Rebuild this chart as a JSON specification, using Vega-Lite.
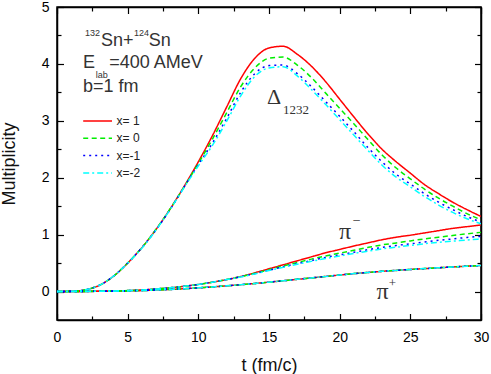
{
  "$schema": "https://vega.github.io/schema/vega-lite/v6.json",
  "width": 424,
  "height": 313,
  "autosize": {"type": "none"},
  "padding": {"left": 57, "top": 7, "right": 10, "bottom": 54},
  "background": "white",
  "config": {
    "view": {"stroke": "black", "strokeWidth": 1.5},
    "font": "Liberation Sans",
    "axis": {"titleFontWeight": 400},
    "style": {"guide-title": {"fontWeight": 400}}
  },
  "datasets": {
    "curves": [
      {"t":0,"s":"x= 1","D":0,"M":0,"P":0},
      {"t":1,"s":"x= 1","D":0.005,"M":0.001,"P":0.001},
      {"t":2,"s":"x= 1","D":0.03,"M":0.003,"P":0.002},
      {"t":3,"s":"x= 1","D":0.11,"M":0.006,"P":0.004},
      {"t":4,"s":"x= 1","D":0.27,"M":0.01,"P":0.007},
      {"t":5,"s":"x= 1","D":0.5,"M":0.017,"P":0.011},
      {"t":6,"s":"x= 1","D":0.77,"M":0.028,"P":0.017},
      {"t":7,"s":"x= 1","D":1.09,"M":0.045,"P":0.026},
      {"t":8,"s":"x= 1","D":1.45,"M":0.066,"P":0.037},
      {"t":9,"s":"x= 1","D":1.85,"M":0.092,"P":0.05},
      {"t":10,"s":"x= 1","D":2.28,"M":0.125,"P":0.065},
      {"t":11,"s":"x= 1","D":2.74,"M":0.165,"P":0.082},
      {"t":12,"s":"x= 1","D":3.24,"M":0.21,"P":0.1},
      {"t":13,"s":"x= 1","D":3.74,"M":0.265,"P":0.12},
      {"t":14,"s":"x= 1","D":4.1,"M":0.33,"P":0.142},
      {"t":15,"s":"x= 1","D":4.28,"M":0.4,"P":0.165},
      {"t":16,"s":"x= 1","D":4.31,"M":0.47,"P":0.19},
      {"t":17,"s":"x= 1","D":4.17,"M":0.54,"P":0.215},
      {"t":18,"s":"x= 1","D":3.96,"M":0.61,"P":0.24},
      {"t":19,"s":"x= 1","D":3.69,"M":0.68,"P":0.265},
      {"t":20,"s":"x= 1","D":3.38,"M":0.74,"P":0.29},
      {"t":21,"s":"x= 1","D":3.07,"M":0.8,"P":0.315},
      {"t":22,"s":"x= 1","D":2.77,"M":0.855,"P":0.335},
      {"t":23,"s":"x= 1","D":2.5,"M":0.91,"P":0.355},
      {"t":24,"s":"x= 1","D":2.28,"M":0.955,"P":0.372},
      {"t":25,"s":"x= 1","D":2.08,"M":0.99,"P":0.388},
      {"t":26,"s":"x= 1","D":1.88,"M":1.03,"P":0.403},
      {"t":27,"s":"x= 1","D":1.72,"M":1.07,"P":0.418},
      {"t":28,"s":"x= 1","D":1.57,"M":1.11,"P":0.432},
      {"t":29,"s":"x= 1","D":1.44,"M":1.14,"P":0.445},
      {"t":30,"s":"x= 1","D":1.32,"M":1.17,"P":0.458},

      {"t":0,"s":"x= 0","D":0,"M":0,"P":0},
      {"t":1,"s":"x= 0","D":0.005,"M":0.001,"P":0.001},
      {"t":2,"s":"x= 0","D":0.03,"M":0.003,"P":0.002},
      {"t":3,"s":"x= 0","D":0.11,"M":0.006,"P":0.004},
      {"t":4,"s":"x= 0","D":0.27,"M":0.01,"P":0.007},
      {"t":5,"s":"x= 0","D":0.5,"M":0.017,"P":0.011},
      {"t":6,"s":"x= 0","D":0.77,"M":0.028,"P":0.017},
      {"t":7,"s":"x= 0","D":1.09,"M":0.045,"P":0.026},
      {"t":8,"s":"x= 0","D":1.45,"M":0.066,"P":0.037},
      {"t":9,"s":"x= 0","D":1.84,"M":0.092,"P":0.05},
      {"t":10,"s":"x= 0","D":2.25,"M":0.125,"P":0.065},
      {"t":11,"s":"x= 0","D":2.68,"M":0.165,"P":0.082},
      {"t":12,"s":"x= 0","D":3.14,"M":0.21,"P":0.1},
      {"t":13,"s":"x= 0","D":3.6,"M":0.26,"P":0.12},
      {"t":14,"s":"x= 0","D":3.93,"M":0.32,"P":0.142},
      {"t":15,"s":"x= 0","D":4.1,"M":0.385,"P":0.165},
      {"t":16,"s":"x= 0","D":4.12,"M":0.45,"P":0.19},
      {"t":17,"s":"x= 0","D":3.98,"M":0.51,"P":0.215},
      {"t":18,"s":"x= 0","D":3.76,"M":0.57,"P":0.24},
      {"t":19,"s":"x= 0","D":3.49,"M":0.625,"P":0.265},
      {"t":20,"s":"x= 0","D":3.22,"M":0.675,"P":0.29},
      {"t":21,"s":"x= 0","D":2.95,"M":0.725,"P":0.315},
      {"t":22,"s":"x= 0","D":2.67,"M":0.775,"P":0.335},
      {"t":23,"s":"x= 0","D":2.4,"M":0.82,"P":0.355},
      {"t":24,"s":"x= 0","D":2.17,"M":0.855,"P":0.372},
      {"t":25,"s":"x= 0","D":1.98,"M":0.89,"P":0.388},
      {"t":26,"s":"x= 0","D":1.8,"M":0.925,"P":0.403},
      {"t":27,"s":"x= 0","D":1.64,"M":0.955,"P":0.418},
      {"t":28,"s":"x= 0","D":1.5,"M":0.985,"P":0.432},
      {"t":29,"s":"x= 0","D":1.37,"M":1.015,"P":0.445},
      {"t":30,"s":"x= 0","D":1.26,"M":1.04,"P":0.458},

      {"t":0,"s":"x=-1","D":0,"M":0,"P":0},
      {"t":1,"s":"x=-1","D":0.005,"M":0.001,"P":0.001},
      {"t":2,"s":"x=-1","D":0.03,"M":0.003,"P":0.002},
      {"t":3,"s":"x=-1","D":0.11,"M":0.006,"P":0.004},
      {"t":4,"s":"x=-1","D":0.27,"M":0.01,"P":0.007},
      {"t":5,"s":"x=-1","D":0.5,"M":0.017,"P":0.011},
      {"t":6,"s":"x=-1","D":0.77,"M":0.028,"P":0.017},
      {"t":7,"s":"x=-1","D":1.08,"M":0.045,"P":0.026},
      {"t":8,"s":"x=-1","D":1.44,"M":0.066,"P":0.037},
      {"t":9,"s":"x=-1","D":1.84,"M":0.092,"P":0.05},
      {"t":10,"s":"x=-1","D":2.23,"M":0.125,"P":0.065},
      {"t":11,"s":"x=-1","D":2.61,"M":0.165,"P":0.082},
      {"t":12,"s":"x=-1","D":3.04,"M":0.21,"P":0.1},
      {"t":13,"s":"x=-1","D":3.5,"M":0.26,"P":0.12},
      {"t":14,"s":"x=-1","D":3.83,"M":0.315,"P":0.142},
      {"t":15,"s":"x=-1","D":3.97,"M":0.375,"P":0.165},
      {"t":16,"s":"x=-1","D":3.98,"M":0.435,"P":0.19},
      {"t":17,"s":"x=-1","D":3.83,"M":0.49,"P":0.215},
      {"t":18,"s":"x=-1","D":3.6,"M":0.545,"P":0.24},
      {"t":19,"s":"x=-1","D":3.34,"M":0.6,"P":0.265},
      {"t":20,"s":"x=-1","D":3.08,"M":0.645,"P":0.29},
      {"t":21,"s":"x=-1","D":2.81,"M":0.69,"P":0.315},
      {"t":22,"s":"x=-1","D":2.53,"M":0.735,"P":0.335},
      {"t":23,"s":"x=-1","D":2.28,"M":0.775,"P":0.355},
      {"t":24,"s":"x=-1","D":2.06,"M":0.81,"P":0.372},
      {"t":25,"s":"x=-1","D":1.89,"M":0.84,"P":0.388},
      {"t":26,"s":"x=-1","D":1.72,"M":0.87,"P":0.403},
      {"t":27,"s":"x=-1","D":1.57,"M":0.9,"P":0.418},
      {"t":28,"s":"x=-1","D":1.44,"M":0.925,"P":0.432},
      {"t":29,"s":"x=-1","D":1.32,"M":0.95,"P":0.445},
      {"t":30,"s":"x=-1","D":1.22,"M":0.97,"P":0.458},

      {"t":0,"s":"x=-2","D":0,"M":0,"P":0},
      {"t":1,"s":"x=-2","D":0.005,"M":0.001,"P":0.001},
      {"t":2,"s":"x=-2","D":0.03,"M":0.003,"P":0.002},
      {"t":3,"s":"x=-2","D":0.11,"M":0.006,"P":0.004},
      {"t":4,"s":"x=-2","D":0.27,"M":0.01,"P":0.007},
      {"t":5,"s":"x=-2","D":0.5,"M":0.017,"P":0.011},
      {"t":6,"s":"x=-2","D":0.76,"M":0.028,"P":0.017},
      {"t":7,"s":"x=-2","D":1.08,"M":0.045,"P":0.026},
      {"t":8,"s":"x=-2","D":1.44,"M":0.066,"P":0.037},
      {"t":9,"s":"x=-2","D":1.83,"M":0.092,"P":0.05},
      {"t":10,"s":"x=-2","D":2.21,"M":0.125,"P":0.065},
      {"t":11,"s":"x=-2","D":2.57,"M":0.165,"P":0.082},
      {"t":12,"s":"x=-2","D":2.99,"M":0.21,"P":0.1},
      {"t":13,"s":"x=-2","D":3.44,"M":0.255,"P":0.12},
      {"t":14,"s":"x=-2","D":3.78,"M":0.31,"P":0.142},
      {"t":15,"s":"x=-2","D":3.93,"M":0.37,"P":0.165},
      {"t":16,"s":"x=-2","D":3.95,"M":0.425,"P":0.19},
      {"t":17,"s":"x=-2","D":3.79,"M":0.48,"P":0.215},
      {"t":18,"s":"x=-2","D":3.55,"M":0.53,"P":0.24},
      {"t":19,"s":"x=-2","D":3.29,"M":0.58,"P":0.265},
      {"t":20,"s":"x=-2","D":3.02,"M":0.625,"P":0.29},
      {"t":21,"s":"x=-2","D":2.75,"M":0.67,"P":0.315},
      {"t":22,"s":"x=-2","D":2.48,"M":0.71,"P":0.335},
      {"t":23,"s":"x=-2","D":2.22,"M":0.75,"P":0.355},
      {"t":24,"s":"x=-2","D":2.01,"M":0.78,"P":0.372},
      {"t":25,"s":"x=-2","D":1.84,"M":0.81,"P":0.388},
      {"t":26,"s":"x=-2","D":1.67,"M":0.84,"P":0.403},
      {"t":27,"s":"x=-2","D":1.52,"M":0.865,"P":0.418},
      {"t":28,"s":"x=-2","D":1.39,"M":0.885,"P":0.432},
      {"t":29,"s":"x=-2","D":1.28,"M":0.905,"P":0.445},
      {"t":30,"s":"x=-2","D":1.19,"M":0.925,"P":0.458}
    ]
  },
  "resolve": {"axis": {"x": "independent", "y": "independent"}},
  "layer": [
    {
      "data": {"name": "curves"},
      "transform": [{"fold": ["D", "M", "P"], "as": ["q", "m"]}],
      "mark": {"type": "line", "strokeWidth": 1.5, "clip": true, "interpolate": "monotone"},
      "encoding": {
        "x": {
          "field": "t", "type": "quantitative",
          "scale": {"domain": [0, 30], "nice": false, "zero": false},
          "axis": {
            "orient": "bottom", "title": "t (fm/c)",
            "values": [0, 2.5, 5, 7.5, 10, 12.5, 15, 17.5, 20, 22.5, 25, 27.5, 30],
            "labelExpr": "datum.value % 5 === 0 ? format(datum.value, 'd') : ''",
            "tickSize": {"condition": {"test": "datum.value % 5 === 0", "value": -6.5}, "value": -4},
            "tickColor": "black", "tickWidth": 1.2,
            "domainColor": "black", "domainWidth": 1.5,
            "labelPadding": 16.5, "labelFlush": false, "labelOverlap": false, "labelBound": false,
            "labelFont": "Liberation Sans", "labelFontSize": 14, "labelColor": "black",
            "titleFont": "Liberation Sans", "titleFontSize": 18, "titleFontWeight": 400, "titleColor": "#111",
            "titlePadding": 10, "grid": false
          }
        },
        "y": {
          "field": "m", "type": "quantitative",
          "scale": {"domain": [-0.5, 5], "nice": false, "zero": false},
          "axis": {
            "orient": "left", "title": "Multiplicity",
            "values": [0, 0.5, 1, 1.5, 2, 2.5, 3, 3.5, 4, 4.5, 5],
            "labelExpr": "datum.value % 1 === 0 ? format(datum.value, 'd') : ''",
            "tickSize": {"condition": {"test": "datum.value % 1 === 0", "value": -6.5}, "value": -4},
            "tickColor": "black", "tickWidth": 1.2,
            "domainColor": "black", "domainWidth": 1.5,
            "labelPadding": 14.5, "labelOverlap": false, "labelBound": false, "labelFlush": false,
            "labelFont": "Liberation Sans", "labelFontSize": 14, "labelColor": "black",
            "titleFont": "Liberation Sans", "titleFontSize": 18, "titleFontWeight": 400, "titleColor": "#111",
            "titlePadding": 23, "grid": false
          }
        },
        "color": {
          "field": "s", "type": "nominal",
          "scale": {"domain": ["x= 1", "x= 0", "x=-1", "x=-2"], "range": ["#ff0000", "#00ee00", "#0000ff", "#00ffff"]},
          "legend": {
            "orient": "none", "legendX": 33.6, "legendY": 107, "title": null,
            "symbolType": "M-2.4,0H2.4", "symbolSize": 144, "symbolStrokeWidth": 1.5,
            "labelFont": "Liberation Sans", "labelFontSize": 12, "labelColor": "#222",
            "labelOffset": 12, "rowPadding": 4.3
          }
        },
        "strokeDash": {
          "field": "s", "type": "nominal",
          "scale": {"domain": ["x= 1", "x= 0", "x=-1", "x=-2"], "range": [[1, 0], [5, 3.5], [2, 4], [6, 3, 2, 3]]},
          "legend": {
            "orient": "none", "legendX": 33.6, "legendY": 107, "title": null,
            "symbolType": "M-2.4,0H2.4", "symbolSize": 144, "symbolStrokeWidth": 1.5,
            "labelFont": "Liberation Sans", "labelFontSize": 12, "labelColor": "#222",
            "labelOffset": 12, "rowPadding": 4.3
          }
        },
        "detail": {"field": "q", "type": "nominal"}
      }
    },
    {
      "data": {"values": [{}]},
      "mark": {"type": "text", "text": "Δ", "font": "Liberation Serif", "fontSize": 22, "align": "left", "baseline": "alphabetic", "color": "#333"},
      "encoding": {
        "x": {"datum": 14.86, "type": "quantitative", "axis": {
          "orient": "top", "title": null, "labels": false,
          "values": [0, 2.5, 5, 7.5, 10, 12.5, 15, 17.5, 20, 22.5, 25, 27.5, 30],
          "tickSize": {"condition": {"test": "datum.value % 5 === 0", "value": -6.5}, "value": -4},
          "tickColor": "black", "tickWidth": 1.2, "domainColor": "black", "domainWidth": 1.5, "grid": false}},
        "y": {"datum": 3.3, "type": "quantitative", "axis": {
          "orient": "right", "title": null, "labels": false,
          "values": [0, 0.5, 1, 1.5, 2, 2.5, 3, 3.5, 4, 4.5, 5],
          "tickSize": {"condition": {"test": "datum.value % 1 === 0", "value": -6.5}, "value": -4},
          "tickColor": "black", "tickWidth": 1.2, "domainColor": "black", "domainWidth": 1.5, "grid": false}}
      }
    },
    {
      "data": {"values": [{}]},
      "mark": {"type": "text", "text": "1232", "font": "Liberation Serif", "fontSize": 13, "align": "left", "baseline": "alphabetic", "color": "#333"},
      "encoding": {"x": {"datum": 15.99, "type": "quantitative", "axis": null}, "y": {"datum": 3.12, "type": "quantitative", "axis": null}}
    },
    {
      "data": {"values": [{}]},
      "mark": {"type": "text", "text": "π", "font": "Liberation Serif", "fontSize": 24, "align": "left", "baseline": "alphabetic", "color": "#333"},
      "encoding": {"x": {"datum": 19.95, "type": "quantitative", "axis": null}, "y": {"datum": 0.92, "type": "quantitative", "axis": null}}
    },
    {
      "data": {"values": [{}]},
      "mark": {"type": "text", "text": "−", "font": "Liberation Serif", "fontSize": 14, "align": "center", "baseline": "middle", "color": "#333"},
      "encoding": {"x": {"datum": 21.2, "type": "quantitative", "axis": null}, "y": {"datum": 1.245, "type": "quantitative", "axis": null}}
    },
    {
      "data": {"values": [{}]},
      "mark": {"type": "text", "text": "π", "font": "Liberation Serif", "fontSize": 24, "align": "left", "baseline": "alphabetic", "color": "#333"},
      "encoding": {"x": {"datum": 22.6, "type": "quantitative", "axis": null}, "y": {"datum": -0.13, "type": "quantitative", "axis": null}}
    },
    {
      "data": {"values": [{}]},
      "mark": {"type": "text", "text": "+", "font": "Liberation Serif", "fontSize": 13, "align": "center", "baseline": "middle", "color": "#333"},
      "encoding": {"x": {"datum": 23.74, "type": "quantitative", "axis": null}, "y": {"datum": 0.158, "type": "quantitative", "axis": null}}
    },
    {
      "data": {"values": [{}]},
      "mark": {"type": "text", "text": "132", "font": "Liberation Sans", "fontSize": 9, "align": "left", "baseline": "alphabetic", "color": "#333"},
      "encoding": {"x": {"datum": 1.98, "type": "quantitative", "axis": null}, "y": {"datum": 4.49, "type": "quantitative", "axis": null}}
    },
    {
      "data": {"values": [{}]},
      "mark": {"type": "text", "text": "Sn+", "font": "Liberation Sans", "fontSize": 18, "align": "left", "baseline": "alphabetic", "color": "#333"},
      "encoding": {"x": {"datum": 3.12, "type": "quantitative", "axis": null}, "y": {"datum": 4.32, "type": "quantitative", "axis": null}}
    },
    {
      "data": {"values": [{}]},
      "mark": {"type": "text", "text": "124", "font": "Liberation Sans", "fontSize": 9, "align": "left", "baseline": "alphabetic", "color": "#333"},
      "encoding": {"x": {"datum": 5.44, "type": "quantitative", "axis": null}, "y": {"datum": 4.49, "type": "quantitative", "axis": null}}
    },
    {
      "data": {"values": [{}]},
      "mark": {"type": "text", "text": "Sn", "font": "Liberation Sans", "fontSize": 18, "align": "left", "baseline": "alphabetic", "color": "#333"},
      "encoding": {"x": {"datum": 6.5, "type": "quantitative", "axis": null}, "y": {"datum": 4.32, "type": "quantitative", "axis": null}}
    },
    {
      "data": {"values": [{}]},
      "mark": {"type": "text", "text": "E", "font": "Liberation Sans", "fontSize": 18, "align": "left", "baseline": "alphabetic", "color": "#333"},
      "encoding": {"x": {"datum": 1.84, "type": "quantitative", "axis": null}, "y": {"datum": 3.92, "type": "quantitative", "axis": null}}
    },
    {
      "data": {"values": [{}]},
      "mark": {"type": "text", "text": "lab", "font": "Liberation Sans", "fontSize": 9, "align": "left", "baseline": "alphabetic", "color": "#333"},
      "encoding": {"x": {"datum": 2.75, "type": "quantitative", "axis": null}, "y": {"datum": 3.76, "type": "quantitative", "axis": null}}
    },
    {
      "data": {"values": [{}]},
      "mark": {"type": "text", "text": "=400 AMeV", "font": "Liberation Sans", "fontSize": 18, "align": "left", "baseline": "alphabetic", "color": "#333"},
      "encoding": {"x": {"datum": 3.7, "type": "quantitative", "axis": null}, "y": {"datum": 3.92, "type": "quantitative", "axis": null}}
    },
    {
      "data": {"values": [{}]},
      "mark": {"type": "text", "text": "b=1 fm", "font": "Liberation Sans", "fontSize": 18, "align": "left", "baseline": "alphabetic", "color": "#333"},
      "encoding": {"x": {"datum": 1.84, "type": "quantitative", "axis": null}, "y": {"datum": 3.51, "type": "quantitative", "axis": null}}
    }
  ]
}
